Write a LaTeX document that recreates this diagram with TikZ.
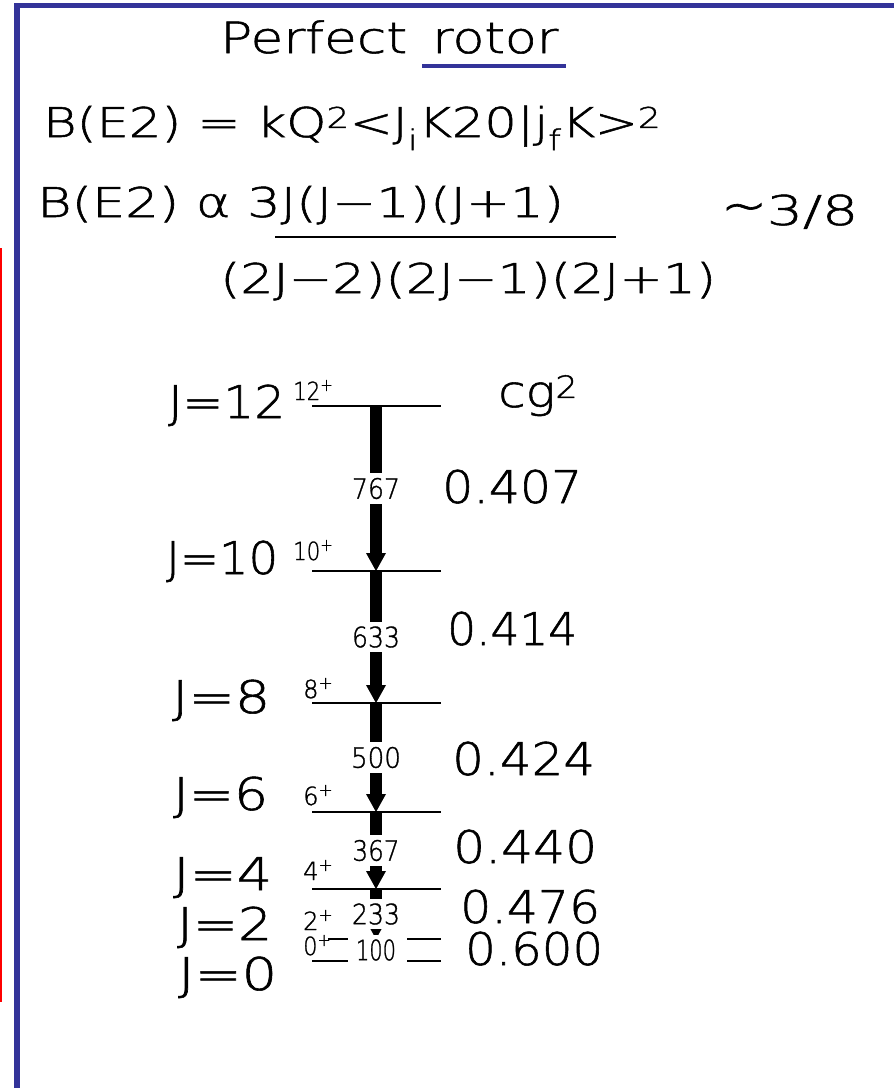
\documentclass[tikz,border=0pt]{standalone}
\usepackage{fontspec}
\newfontfamily\hershey[FakeBold=1.2]{DejaVu Sans ExtraLight}
\usetikzlibrary{arrows.meta}
\definecolor{pptblue}{HTML}{333399}
\definecolor{pptred}{HTML}{FF0000}
% stretch a text to a given width, keep its height
\newcommand{\wfit}[2]{\resizebox{#1pt}{\height}{#2}}
\tikzset{
  every picture/.style={line cap=butt, line join=miter},
  % slide text
  titletxt/.style={font=\hershey\fontsize{43pt}{43pt}\selectfont, inner sep=0pt, anchor=base west},
  formula/.style={font=\hershey\fontsize{41pt}{41pt}\selectfont, inner sep=0pt, anchor=base west},
  jlab/.style={font=\hershey\fontsize{45pt}{45pt}\selectfont, inner sep=0pt, anchor=base west},
  cgval/.style={font=\hershey\fontsize{44pt}{44pt}\selectfont, inner sep=0pt, anchor=base west},
  spin/.style={font=\hershey\fontsize{25pt}{25pt}\selectfont, inner sep=0pt, anchor=base west},
  uline/.style={pptblue, line width=4.5pt},
  % level scheme
  lvl/.style={line width=2pt},
  trans/.style={line width=12pt, -{Triangle[width=20pt, length=18pt, line width=0pt]}},
  elab/.style={font=\hershey\fontsize{28pt}{28pt}\selectfont, fill=white, inner xsep=1pt, inner ysep=4.5pt},
  frameline/.style={fill=pptblue},
}
\begin{document}
\begin{tikzpicture}[x=1pt, y=1pt]
  \fill[white] (0,0) rectangle (894,-1088);
  \useasboundingbox (0,0) rectangle (894,-1088);
  % slide frame and the red margin line
  \fill[frameline] (14,-3) rectangle (894,-8);
  \fill[frameline] (14,-3) rectangle (20,-1088);
  \fill[pptred] (0,-248) rectangle (2.3,-1002);
  % heading and formulas
  \node[titletxt] (perfect) at (220,-53) {\wfit{187}{Perfect}};
  \node[titletxt] (rotor) at (432,-53) {\wfit{126}{rotor}};
  \draw[uline] ([xshift=-10pt, yshift=-13pt]rotor.base west) -- ([xshift=8pt, yshift=-13pt]rotor.base east);
  \node[formula] (be2) at (43,-137) {\wfit{618}{B(E2) = kQ\textsuperscript{2}<J\textsubscript{i}K20|j\textsubscript{f}K>\textsuperscript{2}}};
  \node[formula] (num) at (37,-217) {\wfit{527}{B(E2) α 3J(J−1)(J+1)}};
  \node[formula] (approx) at (721,-225) {\wfit{137}{{\fontsize{52pt}{52pt}\selectfont∼}3/8}};
  \draw[line width=2.5pt] (275,-237) -- (616,-237);
  \node[formula] (den) at (220,-293) {\wfit{496}{(2J−2)(2J−1)(2J+1)}};
  % levels: J = 12 ... 0
  \foreach \n/\y in {12/406, 10/571, 8/703, 6/812, 4/889, 2/939, 0/961}
    \coordinate (l\n) at (376,-\y);
  \foreach \n in {12,10,8,6,4}
    \draw[lvl] ([xshift=-64pt]l\n) -- ([xshift=65pt]l\n);
  \draw[lvl] ([xshift=-48pt]l2) -- ([xshift=-28pt]l2) ([xshift=31pt]l2) -- ([xshift=65pt]l2);
  \draw[lvl] ([xshift=-64pt]l0) -- ([xshift=-28pt]l0) ([xshift=31pt]l0) -- ([xshift=65pt]l0);
  % E2 cascade
  \draw[trans] (l12) -- node[elab] {\wfit{48}{767}} (l10);
  \draw[trans] (l10) -- node[elab] {\wfit{48}{633}} (l8);
  \draw[trans] (l8) -- node[elab] {\wfit{50}{500}} (l6);
  \draw[trans] (l6) -- node[elab] {\wfit{47}{367}} (l4);
  \draw[trans] (l4) -- node[elab] {\wfit{48}{233}} (l2);
  \path (l2) -- node[elab] {\wfit{40}{100}} (l0);
  % spin labels
  \node[jlab] (j12) at (168,-418) {\wfit{117}{J=12}};
  \node[jlab] (j10) at (166,-574) {\wfit{112}{J=10}};
  \node[jlab] (j8) at (172,-713) {\wfit{98}{J=8}};
  \node[jlab] (j6) at (173,-810) {\wfit{95}{J=6}};
  \node[jlab] (j4) at (173,-890) {\wfit{99}{J=4}};
  \node[jlab] (j2) at (177,-940) {\wfit{95}{J=2}};
  \node[jlab] (j0) at (178,-990) {\wfit{99}{J=0}};
  \node[spin] (s12) at (293,-400) {\wfit{40}{12\textsuperscript{+}}};
  \node[spin] (s10) at (293,-560) {\wfit{40}{10\textsuperscript{+}}};
  \node[spin] (s8) at (303,-698) {\wfit{30}{8\textsuperscript{+}}};
  \node[spin] (s6) at (303,-805) {\wfit{30}{6\textsuperscript{+}}};
  \node[spin] (s4) at (303,-880) {\wfit{30}{4\textsuperscript{+}}};
  \node[spin] (s2) at (303,-930) {\wfit{30}{2\textsuperscript{+}}};
  \node[spin] (s0) at (303,-955) {\wfit{28}{0\textsuperscript{+}}};
  % squared Clebsch-Gordan coefficients
  \node[cgval] (cg) at (498,-407) {\wfit{80}{cg\textsuperscript{2}}};
  \node[jlab] (c12) at (442,-503) {\wfit{140}{0.407}};
  \node[jlab] (c10) at (447,-645) {\wfit{130}{0.414}};
  \node[jlab] (c8) at (452,-775) {\wfit{143}{0.424}};
  \node[jlab] (c6) at (453,-863) {\wfit{144}{0.440}};
  \node[jlab] (c4) at (460,-923) {\wfit{140}{0.476}};
  \node[jlab] (c2) at (465,-965) {\wfit{138}{0.600}};
\end{tikzpicture}
\end{document}
